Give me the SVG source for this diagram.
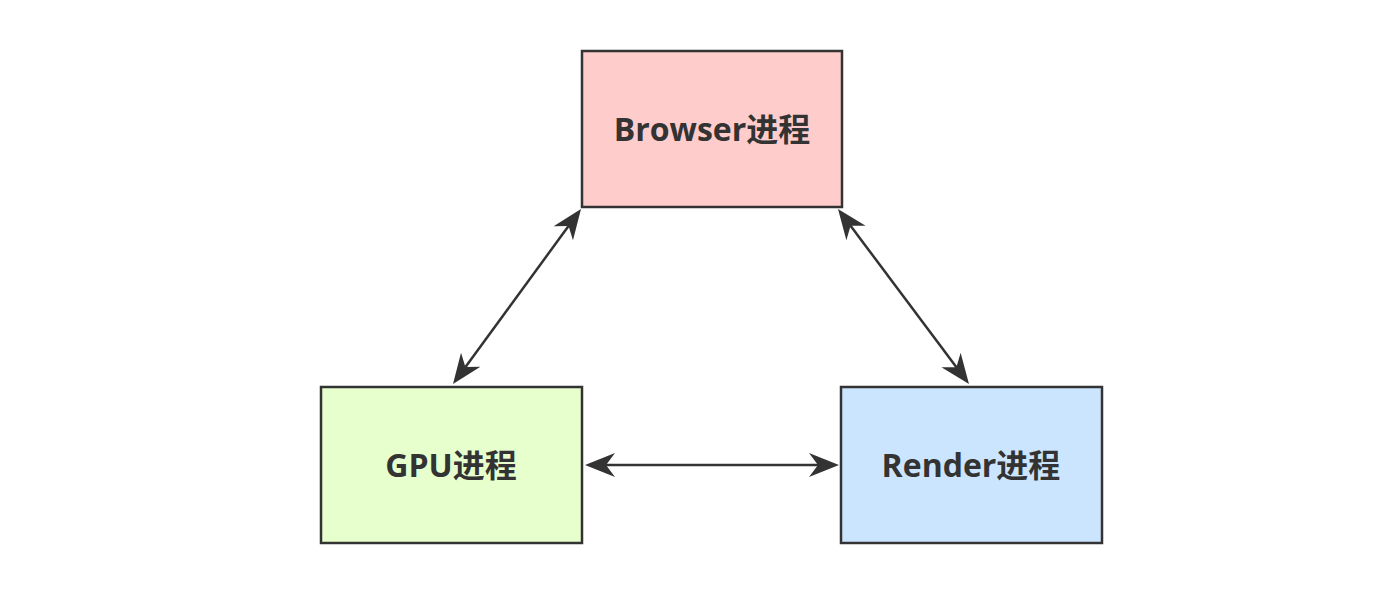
<svg xmlns="http://www.w3.org/2000/svg" width="1390" height="606" viewBox="0 0 1390 606">
<style>
.box{stroke:#333;stroke-width:2.5}
.lbl{font-family:"Open Sans","Noto Sans CJK SC",sans-serif;font-weight:bold;font-size:32px;fill:#333;text-anchor:middle;dominant-baseline:central}
.conn{stroke:#333;stroke-width:2.5;fill:none}
</style>
<defs>
<marker id="arr" markerUnits="userSpaceOnUse" markerWidth="32" markerHeight="26" viewBox="0 -13 32 26" refX="20" refY="0" orient="auto-start-reverse">
<path d="M30,0 L0,-12 L9,0 L0,12 Z" fill="#333"/>
</marker>
</defs>
<rect width="1390" height="606" fill="#fff"/>
<g id="connectors">
<line class="conn" x1="575.1" y1="217.1" x2="458.9" y2="375.9" marker-start="url(#arr)" marker-end="url(#arr)"/>
<line class="conn" x1="844" y1="217" x2="963" y2="376" marker-start="url(#arr)" marker-end="url(#arr)"/>
<line class="conn" x1="595" y1="465" x2="829" y2="465" marker-start="url(#arr)" marker-end="url(#arr)"/>
</g>
<g id="browser">
<rect class="box" x="582" y="51" width="260" height="156" fill="#ffcccc"/>
<text class="lbl" x="712" y="128">Browser进程</text>
</g>
<g id="gpu">
<rect class="box" x="321" y="387" width="261" height="156" fill="#e6ffcc"/>
<text class="lbl" x="451" y="464">GPU进程</text>
</g>
<g id="render">
<rect class="box" x="841" y="387" width="261" height="156" fill="#cce5ff"/>
<text class="lbl" x="971" y="464">Render进程</text>
</g>
</svg>
